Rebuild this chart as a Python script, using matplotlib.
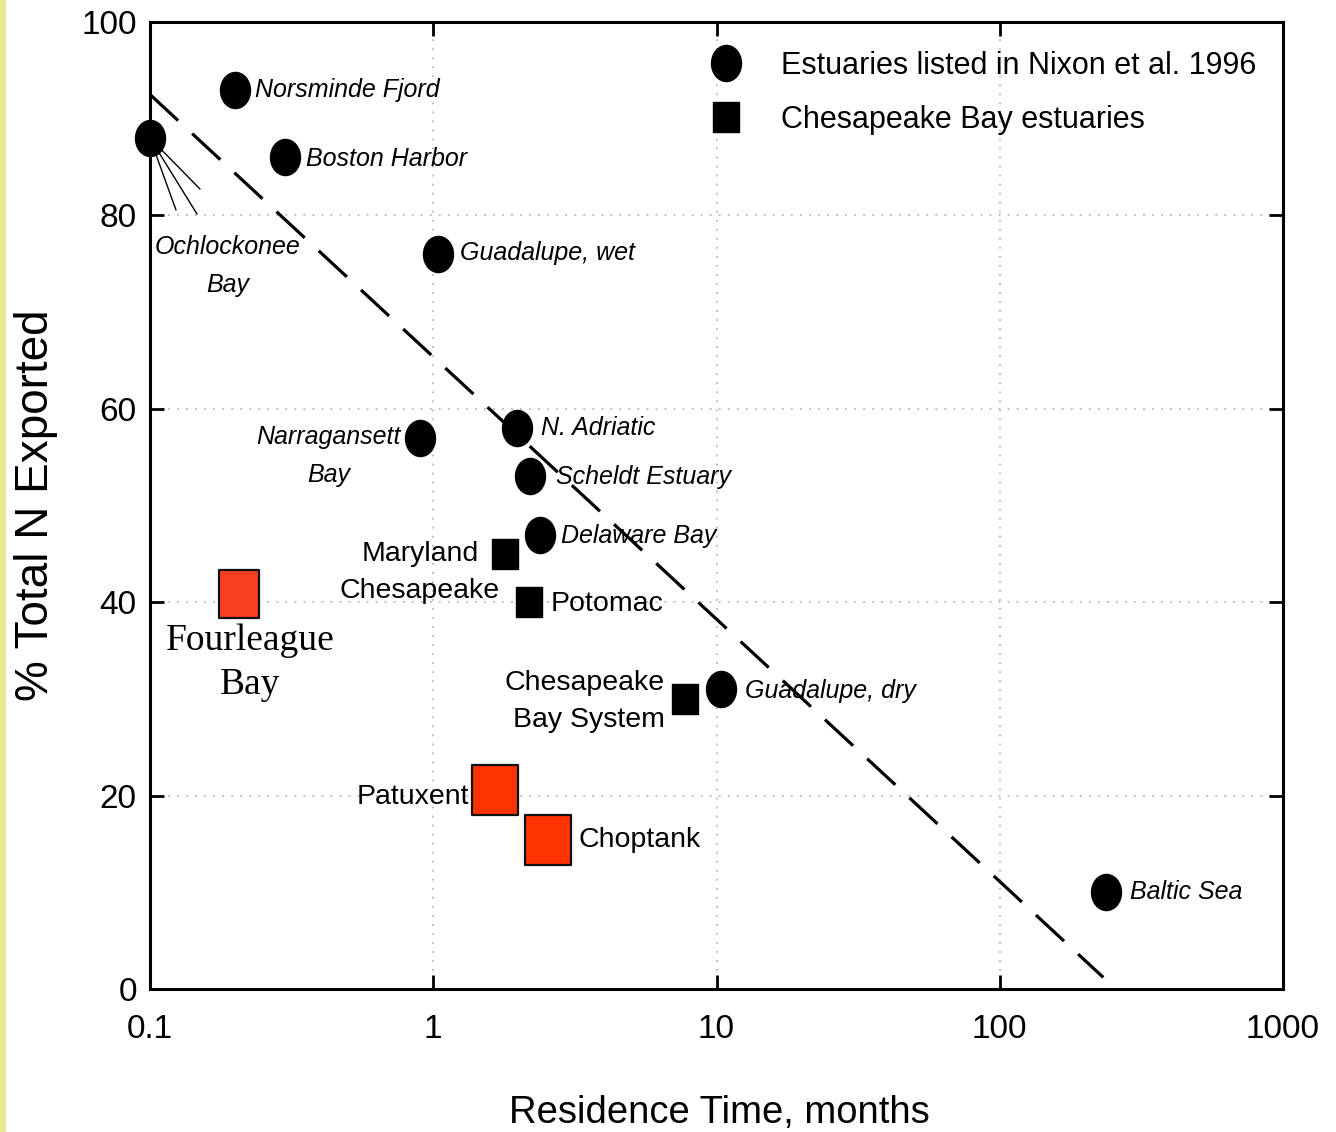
import matplotlib
matplotlib.use("Agg")
import matplotlib.pyplot as plt
from matplotlib.path import Path
from matplotlib.transforms import Affine2D
from matplotlib.lines import Line2D
from matplotlib.patches import Rectangle
from matplotlib import font_manager

# ---------------- data ----------------
nixon_names = ["Norsminde Fjord", "Ochlockonee\nBay", "Boston Harbor", "Guadalupe, wet",
               "Narragansett\nBay", "N. Adriatic", "Scheldt Estuary", "Delaware Bay",
               "Guadalupe, dry", "Baltic Sea"]
nixon_x = [0.2, 0.1, 0.3, 1.04, 0.9, 1.98, 2.2, 2.38, 10.4, 237]
nixon_y = [93, 88, 86, 76, 57, 58, 53, 47, 31, 10]

ches_names = ["Maryland\nChesapeake", "Potomac", "Chesapeake\nBay System"]
ches_x = [1.79, 2.18, 7.74]
ches_y = [45, 40, 30]

red_names = ["Fourleague\nBay", "Patuxent", "Choptank"]
red_x = [0.206, 1.65, 2.54]
red_y = [40.8, 20.6, 15.4]

fit_x = [0.1, 232]
fit_y = [92.5, 1.2]

xticks = [0.1, 1, 10, 100, 1000]
xticklabels = ["0.1", "1", "10", "100", "1000"]
yticks = [0, 20, 40, 60, 80, 100]
yticklabels = ["0", "20", "40", "60", "80", "100"]

legend_labels = ["Estuaries listed in Nixon et al. 1996", "Chesapeake Bay estuaries"]

# ---------------- fonts ----------------
avail = {f.name for f in font_manager.fontManager.ttflist}
NARROW = [f for f in ["Liberation Sans Narrow", "Liberation Sans", "DejaVu Sans"] if f in avail]
SANS = [f for f in ["Liberation Sans", "DejaVu Sans"] if f in avail]
SERIF = [f for f in ["Liberation Serif", "DejaVu Serif"] if f in avail]

# ---------------- markers ----------------
def rect_path(half_w):
    return Path([[-half_w, -0.5], [half_w, -0.5], [half_w, 0.5], [-half_w, 0.5], [-half_w, -0.5]],
                [Path.MOVETO, Path.LINETO, Path.LINETO, Path.LINETO, Path.CLOSEPOLY])

ellipse = Path.unit_circle().transformed(Affine2D().scale(0.83, 1.0))
rect_black = rect_path(0.435)
rect_four = rect_path(0.427)
rect_red = rect_path(0.46)

W, H = 1336, 1132
fig = plt.figure(figsize=(W / 100, H / 100), dpi=100)
fig.patches.append(Rectangle((0, 0), 6 / W, 1, transform=fig.transFigure,
                             facecolor="#e8e88e", edgecolor="none", zorder=0))
ax = fig.add_axes([150 / W, 1 - 989 / H, (1283 - 150) / W, (989 - 22) / H])
ax.set_xscale("log")
ax.set_xlim(0.1, 1000)
ax.set_ylim(0, 100)

ax.grid(True, which="major", linestyle=(0, (1, 4)), color="#b8b8b8", linewidth=1.3)
ax.minorticks_off()
ax.set_xticks(xticks)
ax.set_xticklabels(xticklabels)
ax.set_yticks(yticks)
ax.set_yticklabels(yticklabels)
ax.tick_params(direction="in", length=10, width=2, top=True, right=True, labelsize=24)
ax.tick_params(axis="x", pad=18)
ax.tick_params(axis="y", pad=9.5)
for lab in ax.get_xticklabels() + ax.get_yticklabels():
    lab.set_family(NARROW)
for s in ax.spines.values():
    s.set_linewidth(2.2)
    s.set_color("black")

# fit line
ax.plot(fit_x, fit_y, color="black", linewidth=2.3, dashes=(12, 6), zorder=2)

# points
ax.plot(nixon_x, nixon_y, linestyle="none", marker=ellipse, markersize=26,
        color="black", zorder=5, clip_on=False)
ax.plot(ches_x, ches_y, linestyle="none", marker=rect_black, markersize=21.6,
        color="black", zorder=5)
ax.plot(red_x[:1], red_y[:1], linestyle="none", marker=rect_four, markersize=34.5,
        markerfacecolor="#f84020", markeredgecolor="#111111", markeredgewidth=1.6, zorder=5)
ax.plot(red_x[1:], red_y[1:], linestyle="none", marker=rect_red, markersize=36,
        markerfacecolor="#ff3300", markeredgecolor="#111111", markeredgewidth=1.6, zorder=5)

# Ochlockonee leader lines
for dx, dy in [(26, -72), (47, -76), (50, -51)]:
    ax.annotate("", xy=(nixon_x[1], nixon_y[1]), xytext=(dx, dy),
                textcoords="offset pixels",
                arrowprops=dict(arrowstyle="-", color="black", lw=1.0,
                                shrinkA=0, shrinkB=0), zorder=3)

# label placement (offset pixels, ha)
nixon_style = [((20, 0), "left"), ((78, -128), "center"), ((21, -2), "left"),
               ((22, 1), "left"), ((-92, -18), "center"), ((24, 0), "left"),
               ((26, -1), "left"), ((21, -1), "left"), ((24, -2), "left"),
               ((24, 0), "left")]
for name, x, y, ((ox, oy), ha) in zip(nixon_names, nixon_x, nixon_y, nixon_style):
    ax.annotate(name, xy=(x, y), xytext=(ox, oy), textcoords="offset pixels",
                ha=ha, va="center", fontsize=18, style="italic", family=NARROW,
                linespacing=1.75, zorder=6)

ches_style = [((-85, -19), "center"), ((22, -2), "left"), ((-20, -3), "right")]
for name, x, y, ((ox, oy), ha) in zip(ches_names, ches_x, ches_y, ches_style):
    ax.annotate(name, xy=(x, y), xytext=(ox, oy), textcoords="offset pixels",
                ha=ha, va="center", fontsize=20.5, family=NARROW, linespacing=1.55, zorder=6)

ax.annotate(red_names[0], xy=(red_x[0], red_y[0]), xytext=(11, -68), textcoords="offset pixels",
            ha="center", va="center", fontsize=27, family=SERIF, linespacing=1.35, zorder=6)
ax.annotate(red_names[1], xy=(red_x[1], red_y[1]), xytext=(-26, -7), textcoords="offset pixels",
            ha="right", va="center", fontsize=20.5, family=NARROW, zorder=6)
ax.annotate(red_names[2], xy=(red_x[2], red_y[2]), xytext=(31, 0), textcoords="offset pixels",
            ha="left", va="center", fontsize=20.5, family=NARROW, zorder=6)

# legend
handles = [Line2D([], [], linestyle="none", marker=ellipse, markersize=26, color="black"),
           Line2D([], [], linestyle="none", marker=rect_black, markersize=21.6, color="black")]
leg = ax.legend(handles, legend_labels, loc="upper left",
                bbox_to_anchor=((708 - 150) / (1283 - 150), 1 - 29 / 967),
                frameon=False, prop=dict(family=NARROW, size=22),
                handlelength=1.2, handletextpad=1.19, labelspacing=0.77,
                borderpad=0, borderaxespad=0)
leg.set_zorder(7)

ax.set_ylabel("% Total N Exported", fontsize=33, family=SANS)
ax.yaxis.set_label_coords((58 - 150) / (1283 - 150), 0.5)
fig.text(719 / W, 1 - 1123 / H, "Residence Time, months", ha="center", va="baseline",
         fontsize=27.5, family=NARROW)

fig.savefig("out.png", dpi=100)
